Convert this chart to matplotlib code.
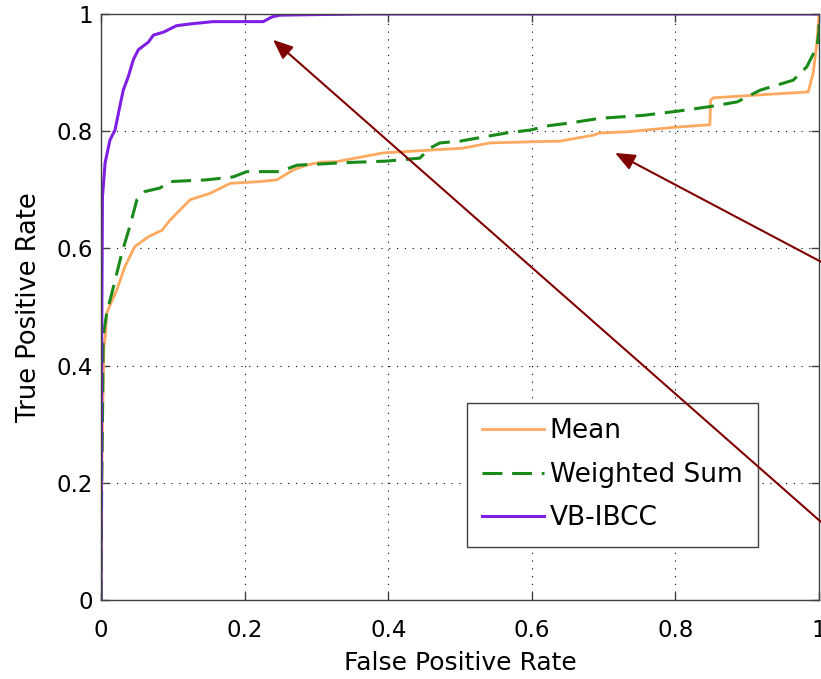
import matplotlib
matplotlib.use("Agg")
import matplotlib.pyplot as plt

# ROC curves for the three combination methods
mean_fpr = [0, 0.001, 0.002, 0.004, 0.006, 0.008, 0.015, 0.022, 0.033, 0.047, 0.066, 0.085,
            0.096, 0.124, 0.152, 0.180, 0.221, 0.245, 0.268, 0.286, 0.305, 0.328, 0.393, 0.421,
            0.504, 0.542, 0.602, 0.639, 0.685, 0.695, 0.733, 0.802, 0.848, 0.849, 0.853, 0.918,
            0.985, 0.992, 0.997, 1.0]
mean_tpr = [0, 0.2, 0.3, 0.43, 0.45, 0.49, 0.51, 0.529, 0.568, 0.603, 0.620, 0.631,
            0.648, 0.683, 0.694, 0.711, 0.714, 0.717, 0.734, 0.742, 0.747, 0.748, 0.763, 0.765,
            0.771, 0.780, 0.782, 0.783, 0.793, 0.797, 0.799, 0.807, 0.811, 0.853, 0.857, 0.862,
            0.867, 0.90, 0.95, 1.0]

ws_fpr = [0, 0.001, 0.002, 0.003, 0.008, 0.015, 0.029, 0.040, 0.050, 0.061, 0.082, 0.096,
          0.147, 0.184, 0.203, 0.249, 0.273, 0.305, 0.333, 0.398, 0.444, 0.458, 0.472, 0.500,
          0.532, 0.565, 0.598, 0.621, 0.653, 0.695, 0.755, 0.802, 0.848, 0.886, 0.918, 0.964,
          0.983, 0.997, 1.0, 1.0]
ws_tpr = [0, 0.2, 0.3, 0.45, 0.49, 0.523, 0.592, 0.637, 0.683, 0.697, 0.703, 0.714,
          0.717, 0.722, 0.731, 0.731, 0.742, 0.744, 0.746, 0.749, 0.754, 0.771, 0.780, 0.783,
          0.790, 0.797, 0.802, 0.809, 0.814, 0.822, 0.827, 0.834, 0.842, 0.850, 0.870, 0.887,
          0.910, 0.944, 0.97, 1.0]

ibcc_fpr = [0, 0.001, 0.002, 0.0057, 0.0125, 0.0195, 0.026, 0.031, 0.038, 0.045, 0.052, 0.066,
            0.073, 0.087, 0.105, 0.124, 0.156, 0.226, 0.238, 0.249, 0.30, 0.37, 1.0]
ibcc_tpr = [0, 0.45, 0.688, 0.746, 0.785, 0.802, 0.841, 0.870, 0.893, 0.922, 0.939, 0.952,
            0.964, 0.969, 0.980, 0.983, 0.987, 0.987, 0.995, 0.998, 0.999, 1.0, 1.0]

ticks = [0, 0.2, 0.4, 0.6, 0.8, 1]
tick_labels = ['0', '0.2', '0.4', '0.6', '0.8', '1']

fig = plt.figure(figsize=(8.21, 6.79), dpi=100)
ax = fig.add_axes([101 / 821, 79 / 679, 718 / 821, 586 / 679])

ax.plot(mean_fpr, mean_tpr, color='#FFA860', lw=2.0, label='Mean')
ax.plot(ws_fpr, ws_tpr, color='#1A8A1A', lw=2.2, linestyle=(0, (6.5, 3.2)), label='Weighted Sum')
ax.plot(ibcc_fpr, ibcc_tpr, color='#7F1FE6', lw=2.2, label='VB-IBCC')

ax.set_xlim(0, 1)
ax.set_ylim(0, 1)
ax.set_xticks(ticks)
ax.set_xticklabels(tick_labels)
ax.set_yticks(ticks)
ax.set_yticklabels(tick_labels)
ax.grid(True, color='black', linestyle=(0, (1, 6)), lw=0.8)
ax.tick_params(direction='in', length=6, width=1, color='#404040', top=True, right=True,
               labelsize=16.5)
ax.tick_params(axis='x', pad=14)
ax.tick_params(axis='y', pad=6)
for s in ax.spines.values():
    s.set_color('#404040')
    s.set_linewidth(1)

ax.set_xlabel('False Positive Rate', fontsize=18, labelpad=6)
ax.set_ylabel('True Positive Rate', fontsize=18.5, labelpad=10)

leg = ax.legend(loc='upper left', bbox_to_anchor=(0.51, 0.336), borderaxespad=0,
                fontsize=19, fancybox=False, framealpha=1, handlelength=2.35,
                handletextpad=0.2, labelspacing=0.66, borderpad=0.58)
leg.get_frame().set_edgecolor('#404040')
leg.get_frame().set_linewidth(1)

# arrows coming in from the right edge, drawn over the legend
arrow = dict(arrowstyle='-|>,head_length=0.6,head_width=0.25', color='#800000', lw=1.5,
             mutation_scale=20, shrinkA=0, shrinkB=0)
ax.annotate('', xy=(0.2396, 0.956), xytext=(1.003, 0.133), arrowprops=arrow,
            annotation_clip=False, zorder=6)
ax.annotate('', xy=(0.716, 0.763), xytext=(1.003, 0.577), arrowprops=arrow,
            annotation_clip=False, zorder=6)

fig.savefig('out.png', dpi=100)
